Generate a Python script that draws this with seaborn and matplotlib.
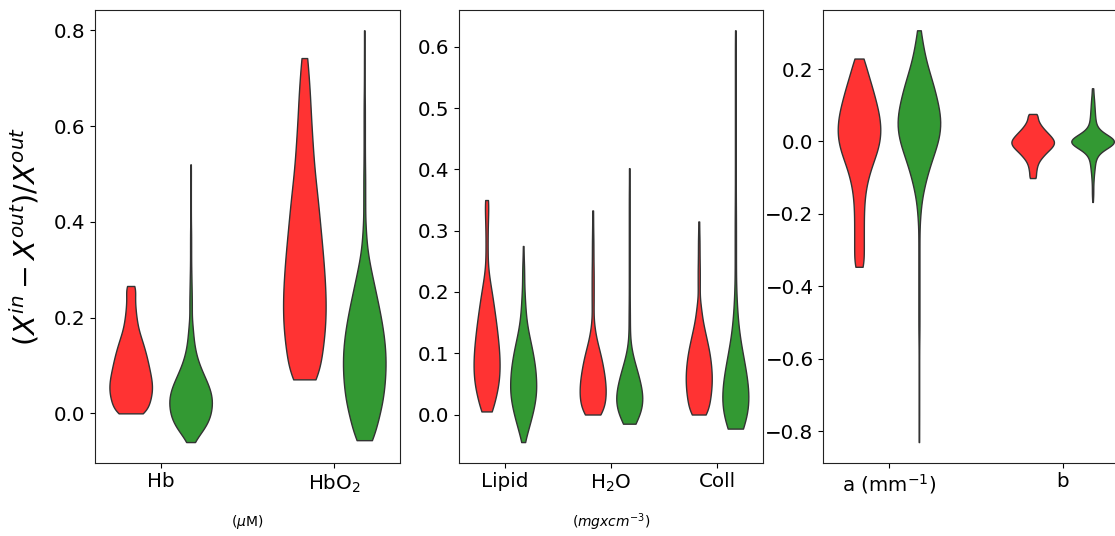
import numpy as np
import pandas as pd
import matplotlib
matplotlib.use("Agg")
import matplotlib.pyplot as plt
import seaborn as sns

# Relative error samples, stored as value levels and how many samples sit at each level.
# Group A is drawn in red, group B in green.

# ---- Chromophores (uM) ----
hb_a_levels = [0.000, 0.015, 0.030, 0.045, 0.060, 0.075, 0.090, 0.105, 0.120, 0.135,
               0.150, 0.165, 0.180, 0.195, 0.210, 0.225, 0.240, 0.255, 0.266]
hb_a_counts = [31, 35, 39, 42, 42, 40, 37, 34, 31, 27, 23, 18, 14, 12, 10, 9, 8, 8, 9]

hb_b_levels = [-0.060, -0.045, -0.030, -0.015, 0.000, 0.015, 0.030, 0.045, 0.060, 0.075,
               0.090, 0.105, 0.120, 0.135, 0.150, 0.165, 0.180, 0.195, 0.225, 0.255,
               0.285, 0.315, 0.345, 0.375, 0.405, 0.435, 0.465, 0.495, 0.520]
hb_b_counts = [4, 17, 28, 36, 39, 41, 42, 39, 34, 27, 21, 15, 11, 8, 6, 5, 4, 3, 5, 4,
               3, 2, 2, 2, 1, 1, 1, 1, 1]

hbo2_a_levels = [0.071, 0.105, 0.140, 0.175, 0.210, 0.245, 0.280, 0.315, 0.350, 0.385,
                 0.420, 0.455, 0.490, 0.525, 0.560, 0.595, 0.630, 0.665, 0.700, 0.742]
hbo2_a_counts = [28, 31, 36, 40, 41, 41, 39, 37, 34, 31, 28, 25, 21, 18, 16, 14, 12, 11, 9, 8]

hbo2_b_levels = [-0.056, -0.030, 0.000, 0.030, 0.060, 0.090, 0.120, 0.150, 0.180, 0.210,
                 0.240, 0.270, 0.300, 0.330, 0.360, 0.390, 0.440, 0.490, 0.540, 0.590,
                 0.640, 0.690, 0.740, 0.800]
hbo2_b_counts = [16, 22, 31, 37, 40, 42, 42, 40, 36, 31, 25, 19, 13, 7, 4, 3, 3, 3, 2, 2,
                 2, 1, 1, 1]

# ---- Tissue constituents (mg x cm^-3) ----
lipid_a_levels = [0.005, 0.020, 0.035, 0.050, 0.065, 0.080, 0.095, 0.110, 0.125, 0.140,
                  0.155, 0.170, 0.185, 0.200, 0.215, 0.230, 0.245, 0.260, 0.275, 0.290,
                  0.305, 0.320, 0.335, 0.350]
lipid_a_counts = [13, 15, 20, 24, 25, 26, 25, 24, 22, 20, 18, 15, 13, 10, 7, 4, 2, 2, 2, 2,
                  2, 3, 3, 5]

lipid_b_levels = [-0.045, -0.030, -0.015, 0.000, 0.015, 0.030, 0.045, 0.060, 0.075, 0.090,
                  0.105, 0.120, 0.135, 0.150, 0.165, 0.180, 0.195, 0.210, 0.225, 0.240,
                  0.255, 0.275]
lipid_b_counts = [3, 8, 13, 18, 22, 25, 26, 25, 24, 21, 18, 14, 10, 7, 5, 4, 3, 2, 2, 2, 1, 1]

water_a_levels = [0.000, 0.012, 0.024, 0.036, 0.048, 0.060, 0.072, 0.084, 0.096, 0.108,
                  0.120, 0.132, 0.144, 0.156, 0.180, 0.205, 0.230, 0.255, 0.280, 0.305,
                  0.333]
water_a_counts = [21, 23, 25, 26, 25, 24, 21, 19, 16, 12, 8, 5, 3, 2, 4, 4, 4, 3, 3, 2, 2]

water_b_levels = [-0.015, -0.005, 0.005, 0.015, 0.025, 0.035, 0.045, 0.055, 0.065, 0.075,
                  0.085, 0.095, 0.105, 0.115, 0.140, 0.165, 0.190, 0.215, 0.240, 0.265,
                  0.290, 0.315, 0.340, 0.365, 0.402]
water_b_counts = [15, 18, 23, 26, 27, 25, 23, 20, 17, 14, 10, 6, 4, 3, 3, 3, 2, 2, 2, 2,
                  2, 2, 2, 2, 2]

coll_a_levels = [0.000, 0.013, 0.026, 0.039, 0.052, 0.065, 0.078, 0.091, 0.104, 0.117,
                 0.130, 0.143, 0.156, 0.169, 0.182, 0.210, 0.235, 0.260, 0.285, 0.315]
coll_a_counts = [19, 20, 23, 25, 26, 26, 25, 23, 21, 17, 14, 10, 7, 5, 4, 4, 4, 3, 3, 2]

coll_b_levels = [-0.023, -0.008, 0.007, 0.022, 0.037, 0.052, 0.067, 0.082, 0.097, 0.112,
                 0.127, 0.142, 0.157, 0.172, 0.187, 0.200, 0.240, 0.280, 0.320, 0.360,
                 0.400, 0.440, 0.480, 0.520, 0.560, 0.600, 0.627]
coll_b_counts = [20, 22, 25, 26, 25, 23, 20, 17, 14, 10, 7, 5, 4, 3, 2, 2, 3, 3, 3, 2,
                 2, 2, 2, 2, 2, 2, 1]

# ---- Scattering parameters ----
scat_a_a_levels = [-0.346, -0.320, -0.295, -0.270, -0.245, -0.220, -0.195, -0.170, -0.145,
                   -0.120, -0.095, -0.070, -0.045, -0.020, 0.005, 0.030, 0.055, 0.080,
                   0.105, 0.130, 0.155, 0.180, 0.205, 0.229]
scat_a_a_counts = [11, 9, 9, 9, 9, 9, 9, 10, 11, 14, 18, 23, 30, 36, 40, 41, 40, 37, 33, 28,
                   24, 18, 13, 10]

scat_a_b_levels = [-0.830, -0.770, -0.720, -0.670, -0.620, -0.570, -0.520, -0.470, -0.420,
                   -0.370, -0.320, -0.270, -0.220, -0.195, -0.170, -0.145, -0.120, -0.095,
                   -0.070, -0.045, -0.020, 0.005, 0.030, 0.055, 0.080, 0.105, 0.130,
                   0.155, 0.180, 0.205, 0.230, 0.255, 0.280, 0.307]
scat_a_b_counts = [1, 1, 1, 1, 1, 1, 2, 2, 2, 2, 2, 2, 2, 3, 4, 7, 11, 15, 20, 26, 32, 38,
                   41, 42, 40, 36, 32, 28, 22, 17, 12, 9, 6, 4]

scat_b_a_levels = [-0.101, -0.090, -0.080, -0.070, -0.060, -0.050, -0.040, -0.030, -0.020,
                   -0.010, 0.000, 0.010, 0.020, 0.030, 0.040, 0.050, 0.060, 0.070, 0.076]
scat_b_a_counts = [8, 6, 7, 8, 10, 14, 20, 26, 34, 40, 42, 37, 31, 24, 18, 13, 10, 7, 8]

scat_b_b_levels = [-0.167, -0.150, -0.135, -0.120, -0.105, -0.090, -0.075, -0.060, -0.048,
                   -0.040, -0.032, -0.024, -0.016, -0.008, 0.000, 0.008, 0.016, 0.024,
                   0.032, 0.040, 0.048, 0.060, 0.075, 0.090, 0.105, 0.120, 0.135, 0.147]
scat_b_b_counts = [1, 2, 2, 2, 3, 4, 6, 7, 6, 7, 10, 16, 25, 34, 39, 34, 25, 16, 10, 7, 6,
                   8, 7, 6, 5, 4, 2, 2]

groups = ["A", "B"]
group_colors = ["#ff3333", "#339933"]

panel1_params = ["Hb", "HbO$_2$"]
panel2_params = ["Lipid", "H$_2$O", "Coll"]
panel3_params = ["a (mm$^{-1}$)", "b"]


def build_frame(entries):
    rows = []
    for param, group, levels, counts in entries:
        values = np.repeat(np.asarray(levels, float), np.asarray(counts, int))
        rows.append(pd.DataFrame({"param": param, "group": group, "value": values}))
    return pd.concat(rows, ignore_index=True)


df1 = build_frame([
    ("Hb", "A", hb_a_levels, hb_a_counts),
    ("Hb", "B", hb_b_levels, hb_b_counts),
    ("HbO$_2$", "A", hbo2_a_levels, hbo2_a_counts),
    ("HbO$_2$", "B", hbo2_b_levels, hbo2_b_counts),
])
df2 = build_frame([
    ("Lipid", "A", lipid_a_levels, lipid_a_counts),
    ("Lipid", "B", lipid_b_levels, lipid_b_counts),
    ("H$_2$O", "A", water_a_levels, water_a_counts),
    ("H$_2$O", "B", water_b_levels, water_b_counts),
    ("Coll", "A", coll_a_levels, coll_a_counts),
    ("Coll", "B", coll_b_levels, coll_b_counts),
])
df3 = build_frame([
    ("a (mm$^{-1}$)", "A", scat_a_a_levels, scat_a_a_counts),
    ("a (mm$^{-1}$)", "B", scat_a_b_levels, scat_a_b_counts),
    ("b", "A", scat_b_a_levels, scat_b_a_counts),
    ("b", "B", scat_b_b_levels, scat_b_b_counts),
])

fig = plt.figure(figsize=(11.15, 5.36), dpi=100)
bottom, height = 0.1368, 0.8451
ax1 = fig.add_axes([0.0852, bottom, 0.2735, height])
ax2 = fig.add_axes([0.4119, bottom, 0.2721, height])
ax3 = fig.add_axes([0.7384, bottom, 0.2735, height])

violin_kws = dict(x="param", y="value", hue="group", hue_order=groups,
                  palette=group_colors, saturation=1, inner=None, cut=0,
                  density_norm="width", width=0.69, gap=0.29, bw_adjust=0.7,
                  linewidth=1.0, linecolor="#333333", legend=False)

tick_fs = 14.3
for ax, df, order in [(ax1, df1, panel1_params), (ax2, df2, panel2_params),
                      (ax3, df3, panel3_params)]:
    sns.violinplot(data=df, order=order, ax=ax, **violin_kws)
    ax.set_xlim(-0.378, len(order) - 1 + 0.378)
    ax.set_xticks(range(len(order)))
    ax.set_xticklabels(order, fontsize=tick_fs)
    ax.tick_params(axis="y", labelsize=tick_fs)
    ax.set_ylabel("")
    ax.set_xlabel("")
    for s in ax.spines.values():
        s.set_color("#222222")

ax2.set_xlim(-0.43, 2.43)

ax1.set_ylabel(r"$(X^{in} - X^{out})/X^{out}$", fontsize=20.5, labelpad=9)
ax1.set_xlabel(r"($\mu$M)", fontsize=10, labelpad=13)
ax2.set_xlabel(r"$(mgxcm^{-3})$", fontsize=10, labelpad=13)

fig.savefig("out.png", dpi=100)
